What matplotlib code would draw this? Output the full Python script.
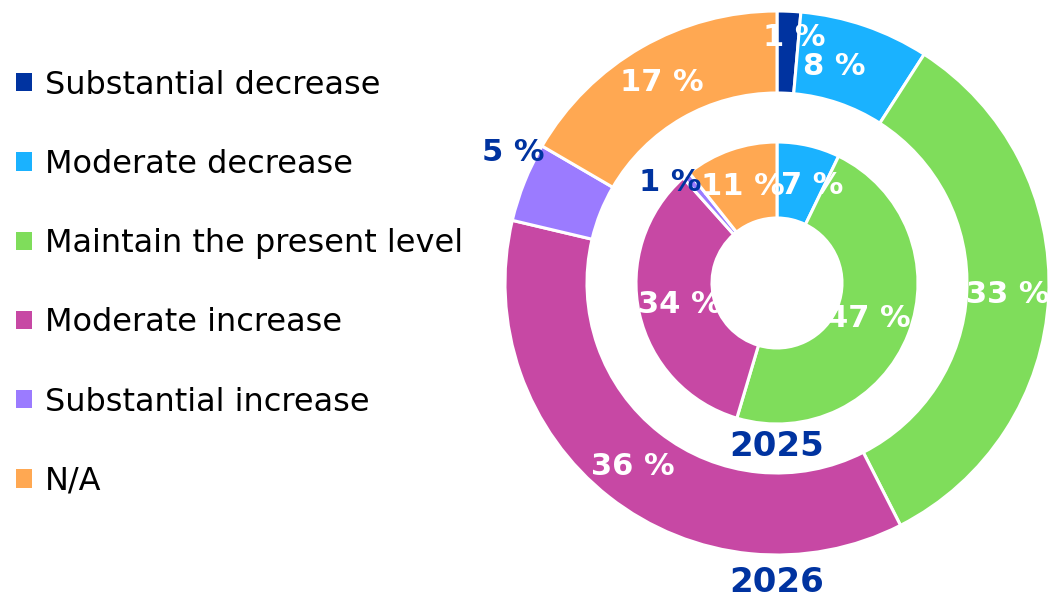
import matplotlib.pyplot as plt
import numpy as np
from matplotlib.patches import Patch

categories = [
    "Substantial decrease",
    "Moderate decrease",
    "Maintain the present level",
    "Moderate increase",
    "Substantial increase",
    "N/A",
]
colors = ["#0033a0", "#1ab2ff", "#7fdd5b", "#c748a4", "#9b7bff", "#ffa852"]

# shares (labels are the rounded values)
values_2026 = [1.4, 7.7, 33.4, 36.2, 4.7, 16.6]
labels_2026 = ["1 %", "8 %", "33 %", "36 %", "5 %", "17 %"]
values_2025 = [0.0, 7.2, 47.4, 33.8, 0.9, 10.7]
labels_2025 = ["", "7 %", "47 %", "34 %", "1 %", "11 %"]

dark_blue = "#0033a0"

fig = plt.figure(figsize=(10.5, 6.01), dpi=100)
ax = fig.add_axes([0, 0, 1, 1])

cx, cy = 777, 318
r_out, w_out = 272, 82
r_in, w_in = 141, 76

wedges_out, _ = ax.pie(values_2026, radius=r_out, center=(cx, cy), colors=colors,
                       startangle=90, counterclock=False,
                       wedgeprops=dict(width=w_out, edgecolor="white", linewidth=2.2))
wedges_in, _ = ax.pie(values_2025, radius=r_in, center=(cx, cy), colors=colors,
                      startangle=90, counterclock=False,
                      wedgeprops=dict(width=w_in, edgecolor="white", linewidth=2.2))

ax.set_xlim(0, 1050)
ax.set_ylim(0, 601)
ax.set_aspect("equal")
ax.axis("off")


def put_labels(wedges, labels, radii, shifts, text_colors):
    # shifts: degrees, clockwise, to nudge a label away from the wedge middle
    for w, lab, r, s, c in zip(wedges, labels, radii, shifts, text_colors):
        if not lab:
            continue
        ang = np.radians((w.theta1 + w.theta2) / 2 - s)
        ax.text(cx + r * np.cos(ang), cy + r * np.sin(ang), lab, ha="center",
                va="center", fontsize=22, fontweight="bold", color=c)


put_labels(wedges_out, labels_2026, [246, 224, 231, 234, 294, 231],
           [1.5, -4, 0, 0, 4.5, 0],
           ["white", "white", "white", "white", dark_blue, "white"])
put_labels(wedges_in, labels_2025, [0, 104, 98, 100, 147, 102],
           [0, 7, 0, 0, -6.5, 0],
           ["white", "white", "white", "white", dark_blue, "white"])

ax.text(cx, cy - r_in - 22, "2025", ha="center", va="center", fontsize=24.5,
        fontweight="bold", color=dark_blue)
ax.text(cx, cy - r_out - 28, "2026", ha="center", va="center", fontsize=24.5,
        fontweight="bold", color=dark_blue)

handles = [Patch(facecolor=c, edgecolor="none") for c in colors]
ax.legend(handles, categories, loc="upper left", bbox_to_anchor=(-0.012, 0.932),
          frameon=False, fontsize=23, labelspacing=1.51, handlelength=0.5,
          handleheight=0.5, handletextpad=0.4, borderaxespad=0.5)

fig.savefig("out.png", dpi=100)
